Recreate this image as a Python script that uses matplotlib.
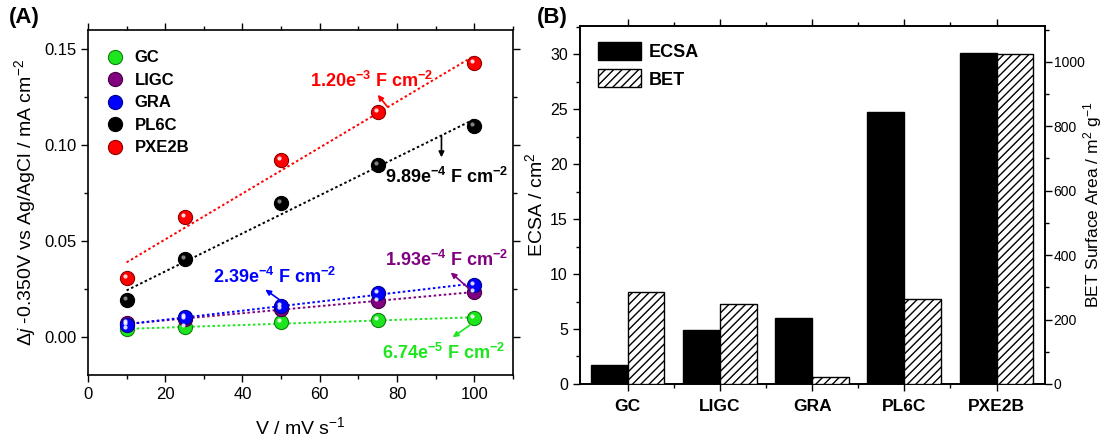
import matplotlib
matplotlib.use("Agg")
import matplotlib.pyplot as plt
import matplotlib.ticker as mticker
from matplotlib.lines import Line2D
from matplotlib.patches import Patch
from matplotlib.transforms import offset_copy
import numpy as np

plt.rcParams["font.family"] = ["Liberation Sans", "DejaVu Sans"]
plt.rcParams["mathtext.fontset"] = "custom"
plt.rcParams["mathtext.rm"] = "Liberation Sans"
plt.rcParams["mathtext.it"] = "Liberation Sans:italic"
plt.rcParams["mathtext.bf"] = "Liberation Sans:bold"
plt.rcParams["hatch.linewidth"] = 1.0

# panel A: double-layer current vs scan rate
SCAN_RATES = [10, 25, 50, 75, 100]
GC = [0.0038, 0.0048, 0.0076, 0.0086, 0.0097]
LIGC = [0.0069, 0.0090, 0.0145, 0.0186, 0.0233]
GRA = [0.0060, 0.0103, 0.0159, 0.0228, 0.0271]
PL6C = [0.0193, 0.0405, 0.0698, 0.0897, 0.1098]
PXE2B = [0.0307, 0.0626, 0.0922, 0.1172, 0.1428]
SERIES_NAMES = ["GC", "LIGC", "GRA", "PL6C", "PXE2B"]
SERIES_COLORS = ["#1ee61e", "#800080", "#0000ff", "#000000", "#ff0000"]
CDL_LABELS = [
    ("6.74e", "-5"),
    ("1.93e", "-4"),
    ("2.39e", "-4"),
    ("9.89e", "-4"),
    ("1.20e", "-3"),
]

# panel B: ECSA vs BET
CATEGORIES = ["GC", "LIGC", "GRA", "PL6C", "PXE2B"]
ECSA = [1.73, 4.88, 6.03, 24.76, 30.1]
BET = [285, 248, 22, 263, 1025]


def darker(color, f=0.55):
    c = np.array(matplotlib.colors.to_rgb(color))
    return tuple(c * f)


def sphere(ax, x, y, color, fig):
    ax.plot(x, y, ls="none", marker="o", ms=10.2, mfc=color,
            mec=darker(color), mew=0.8, zorder=4)
    hl = offset_copy(ax.transData, fig=fig, x=-2.0, y=2.0, units="dots")
    hc = "#9a9a9a" if color == "#000000" else "white"
    ax.plot(x, y, ls="none", marker="o", ms=3.0, mfc=hc, mec="none",
            alpha=0.85, transform=hl, zorder=5)


fig = plt.figure(figsize=(11.05, 4.4), dpi=100)
ax = fig.add_axes([0.0796, 0.1477, 0.3846, 0.784])

data = [GC, LIGC, GRA, PL6C, PXE2B]
x = np.array(SCAN_RATES, dtype=float)
for name, ys, col in zip(SERIES_NAMES, data, SERIES_COLORS):
    k, b = np.polyfit(x, ys, 1)
    xx = np.array([x[0], x[-1]])
    ax.plot(xx, k * xx + b, color=col, ls=(0, (1.3, 1.3)), lw=1.4, zorder=2)
for name, ys, col in zip(SERIES_NAMES, data, SERIES_COLORS):
    sphere(ax, x, ys, col, fig)

ax.set_xlim(0, 110)
ax.set_ylim(-0.02, 0.16)
ax.xaxis.set_major_locator(mticker.MultipleLocator(20))
ax.xaxis.set_minor_locator(mticker.MultipleLocator(10))
ax.yaxis.set_major_locator(mticker.MultipleLocator(0.05))
ax.yaxis.set_minor_locator(mticker.MultipleLocator(0.025))
ax.yaxis.set_major_formatter(mticker.FormatStrFormatter("%.2f"))
ax.set_xticks([0, 20, 40, 60, 80, 100])
ax.set_xlabel(r"V / mV s$^{-1}$", fontsize=14, labelpad=10)
ax.set_ylabel(r"$\Delta j$ -0.350V vs Ag/AgCl / mA cm$^{-2}$", fontsize=14, labelpad=4)

# annotations: text (x, y) and arrow tail/head in data units
ann_text_pos = [(76.2, -0.0087), (76.8, 0.0399), (32.3, 0.0312), (76.8, 0.0832), (57.5, 0.1335)]
ann_arrows = [
    ((98.9, 0.0061), (94.4, -0.0003)),
    ((98.9, 0.0246), (93.9, 0.0335)),
    ((50.3, 0.0182), (45.9, 0.0246)),
    ((91.5, 0.1049), (91.5, 0.0936)),
    ((77.5, 0.1200), (75.0, 0.1262)),
]
for (mant, ex), col, (tx, ty), (tail, head) in zip(CDL_LABELS, SERIES_COLORS, ann_text_pos, ann_arrows):
    ax.text(tx, ty, mant + r"$^{\mathbf{" + ex + r"}}$ F cm$^{\mathbf{-2}}$",
            color=col, fontsize=13, fontweight="bold", ha="left", va="center", zorder=6)
    ax.annotate("", xy=head, xytext=tail,
                arrowprops=dict(arrowstyle="-|>", color=col, lw=1.2,
                                mutation_scale=8, shrinkA=0, shrinkB=0), zorder=6)

handles = [Line2D([], [], ls="none", marker="o", ms=10.2, mfc=c, mec=darker(c), mew=0.8)
           for c in SERIES_COLORS]
leg = ax.legend(handles, SERIES_NAMES, loc="upper left", bbox_to_anchor=(0.012, 0.975),
                frameon=False, prop=dict(size=12, weight="bold"), labelspacing=0.45,
                handlelength=1.2, handletextpad=0.6, borderaxespad=0.3)

# panel B
ax2 = fig.add_axes([0.5245, 0.1273, 0.4208, 0.8136])
ax3 = ax2.twinx()
pos = np.arange(len(CATEGORIES))
w = 0.4
ax2.bar(pos - w / 2, ECSA, width=w, color="black", edgecolor="black", lw=1.0, zorder=3)
ax3.bar(pos + w / 2, BET, width=w, color="white", edgecolor="black", lw=1.0,
        hatch="////", zorder=3)
ax2.set_xlim(-0.52, 4.52)
ax2.set_ylim(0, 32.55)
ax3.set_ylim(0, 1111)
ax2.set_xticks(pos)
ax2.set_xticklabels(CATEGORIES, fontsize=12.5, fontweight="bold")
ax2.xaxis.set_minor_locator(mticker.FixedLocator(pos[:-1] + 0.5))
ax2.yaxis.set_major_locator(mticker.MultipleLocator(5))
ax2.yaxis.set_minor_locator(mticker.MultipleLocator(2.5))
ax3.yaxis.set_major_locator(mticker.MultipleLocator(200))
ax3.yaxis.set_minor_locator(mticker.MultipleLocator(100))
ax2.set_ylabel(r"ECSA / cm$^{2}$", fontsize=14, labelpad=3)
ax3.set_ylabel(r"BET Surface Area / m$^{2}$ g$^{-1}$", fontsize=12.5)
ax3.yaxis.set_label_coords(1.078, 0.5)

ax2.legend([Patch(facecolor="black", edgecolor="black"),
            Patch(facecolor="white", edgecolor="black", hatch="////")],
           ["ECSA", "BET"], loc="upper left", bbox_to_anchor=(0.005, 1.0),
           frameon=False, prop=dict(size=13, weight="bold"), handlelength=2.4,
           handleheight=1.15, handletextpad=0.4, labelspacing=0.45)

for a in (ax, ax2, ax3):
    for s in a.spines.values():
        s.set_linewidth(1.2)
ax.tick_params(which="both", direction="out", top=True, right=True, labelsize=12, width=1.0)
ax.tick_params(which="major", length=5)
ax.tick_params(which="minor", length=3)
ax2.tick_params(which="both", direction="out", top=True, labelsize=11.5, width=1.0)
ax2.tick_params(axis="x", which="major", length=5, labelsize=12.5, pad=6)
ax2.tick_params(axis="y", which="major", length=5)
ax2.tick_params(which="minor", length=3)
ax3.tick_params(which="both", direction="out", labelsize=10, width=1.0, pad=1.5)
ax3.tick_params(which="major", length=5)
ax3.tick_params(which="minor", length=3)

fig.text(0.008, 0.985, "(A)", fontsize=16, fontweight="bold", va="top", ha="left")
fig.text(0.486, 0.985, "(B)", fontsize=16, fontweight="bold", va="top", ha="left")

fig.savefig("out.png", dpi=100)
